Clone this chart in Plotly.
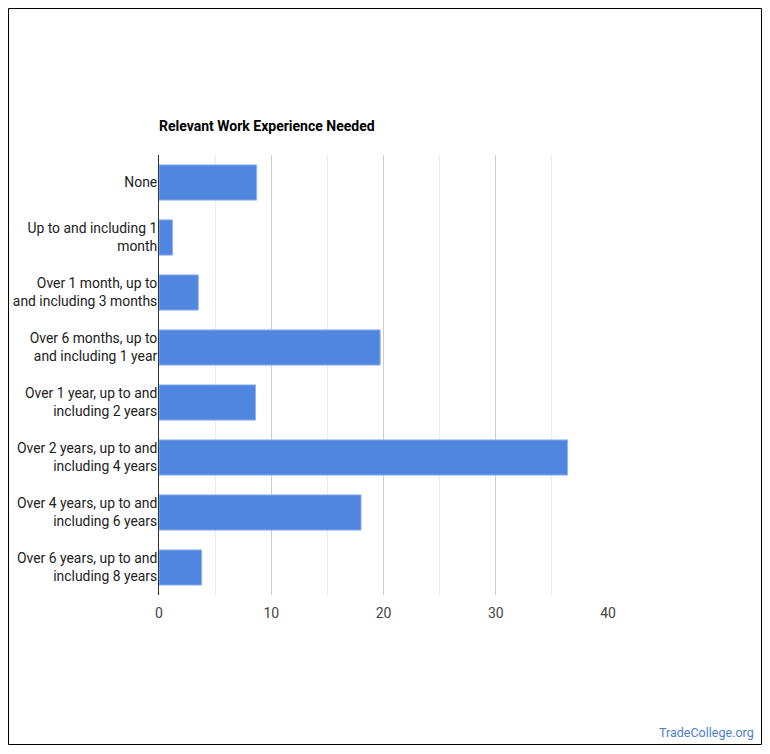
import plotly.graph_objects as go

# kategorier (uppifrån och ner)
categories = [
    "None",
    "Up to and including 1<br>month",
    "Over 1 month, up to<br>and including 3 months",
    "Over 6 months, up to<br>and including 1 year",
    "Over 1 year, up to and<br>including 2 years",
    "Over 2 years, up to and<br>including 4 years",
    "Over 4 years, up to and<br>including 6 years",
    "Over 6 years, up to and<br>including 8 years",
]
values = [8.7, 1.2, 3.5, 19.7, 8.6, 36.4, 18.0, 3.8]
tick_vals = [0, 10, 20, 30, 40]

# sidan har 8px body-marginal, så figuren görs 16px mindre
W, H = 754, 738
L, T, PW, PH = 151, 147, 449, 440

fig = go.Figure()
fig.add_trace(go.Bar(
    x=values, y=categories, orientation="h",
    marker=dict(color="#5086e0", line=dict(color="#8fb3ef", width=1)),
    hoverinfo="x+y",
))

fig.update_layout(
    width=W, height=H,
    paper_bgcolor="white", plot_bgcolor="white",
    margin=dict(l=L, r=W - L - PW, t=T, b=H - T - PH, autoexpand=False),
    font=dict(family="Roboto", size=14, color="#222222"),
    bargap=0.36,
    showlegend=False,
    title=dict(text="<b>Relevant Work Experience Needed</b>", x=L / W, xanchor="left",
               y=1 - 118 / H, yanchor="middle", font=dict(size=14, color="#000000")),
    xaxis=dict(range=[0, 40], tickvals=tick_vals, showgrid=True, gridcolor="#cccccc",
               minor=dict(dtick=5, showgrid=True, gridcolor="#ebebeb"), automargin=False,
               zeroline=False, showline=False, ticks="", ticklabelstandoff=8,
               tickfont=dict(size=14, color="#444444")),
    yaxis=dict(autorange="reversed", showline=True, linecolor="#333333", linewidth=1,
               ticks="", showgrid=False, automargin=False, ticklabelstandoff=-2,
               tickfont=dict(size=13.9, color="#222222")),
    shapes=[dict(type="rect", xref="paper", yref="paper",
                 x0=-(L - 0.5) / PW, x1=(W - L - 0.5) / PW,
                 y0=-(H - T - PH - 1.5) / PH, y1=(T + PH - 0.5) / PH,
                 line=dict(color="#000000", width=1), fillcolor="rgba(0,0,0,0)")],
    annotations=[dict(text="TradeCollege.org", xref="paper", yref="paper",
                      x=(748 - L) / PW, y=-(724 - T - PH) / PH, xanchor="right", yanchor="middle",
                      showarrow=False, font=dict(size=12.5, color="#4a7fd0"))],
)

fig.write_html("out.html")
